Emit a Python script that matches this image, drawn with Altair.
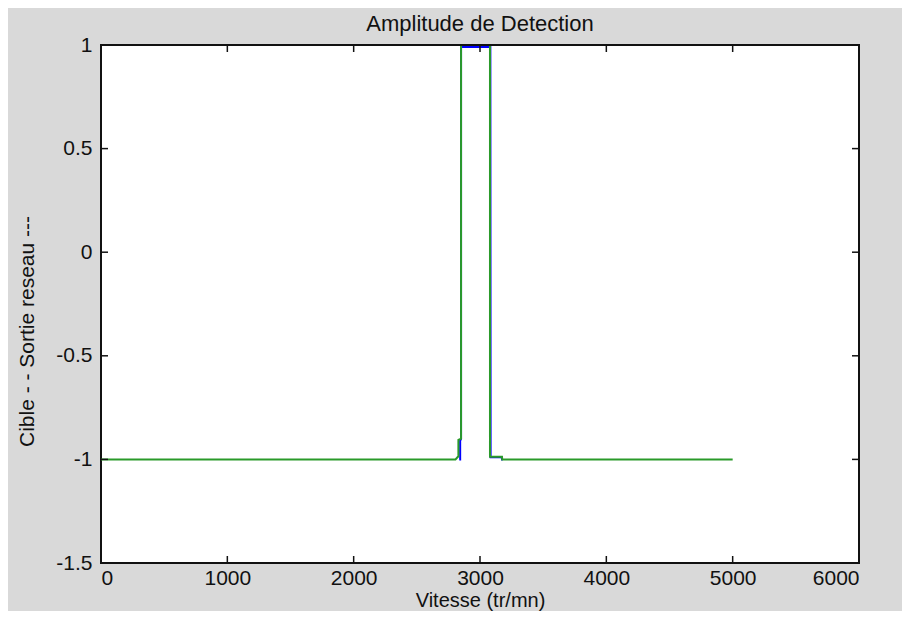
import altair as alt
import pandas as pd

# Network output (blue, "Sortie reseau") - pulse region where it differs from target
blue_x = [2836, 2843, 2843, 2850, 2850, 3082, 3084, 3172, 3174, 3180]
blue_y = [-1, -1, -0.91, -0.9, 0.99, 0.99, -0.99, -0.99, -1, -1]

# Target (green, "Cible")
green_x = [0, 2806, 2829, 2829, 2850, 2850, 3079, 3079, 3174, 3176, 5000]
green_y = [-1, -1, -0.985, -0.906, -0.9, 1, 1, -0.987, -0.987, -1, -1]

x_ticks = [0, 1000, 2000, 3000, 4000, 5000, 6000]
y_ticks = [-1.5, -1, -0.5, 0, 0.5, 1]
x_inner = [1000, 2000, 3000, 4000, 5000]
y_inner = [-1, -0.5, 0, 0.5]

W, H = 758, 518
FONT = "Liberation Sans"
FS = 21

rows = []
for i, (x, y) in enumerate(zip(blue_x, blue_y)):
    rows.append({"serie": "Sortie reseau", "x": x, "y": y, "o": i})
for i, (x, y) in enumerate(zip(green_x, green_y)):
    rows.append({"serie": "Cible", "x": x, "y": y, "o": i})
df = pd.DataFrame(rows)

xs = alt.Scale(domain=[0, 6000], nice=False, zero=False)
ys = alt.Scale(domain=[-1.5, 1], nice=False, zero=False)

xaxis = alt.Axis(values=x_ticks, ticks=False, domain=False, grid=False,
                 labelFontSize=FS, labelFont=FONT, labelColor="#111",
                 labelPadding=4, labelExpr="toString(datum.value)",
                 title="Vitesse (tr/mn)", titleFont=FONT, titleFontSize=20,
                 titleFontWeight="normal", titleColor="#111",
                 titleX=W / 2, titleY=37, titleBaseline="middle", titleAlign="center")
yaxis = alt.Axis(values=y_ticks, ticks=False, domain=False, grid=False,
                 labelFontSize=FS, labelFont=FONT, labelColor="#111",
                 labelPadding=9, labelExpr="toString(datum.value)",
                 title="Cible - -   Sortie reseau ---", titleFont=FONT, titleFontSize=FS,
                 titleFontWeight="normal", titleColor="#111",
                 titleX=-74, titleY=286, titleAngle=270,
                 titleBaseline="middle", titleAlign="center")

base = alt.Chart(df)
blue = base.transform_filter(alt.datum.serie == "Sortie reseau").mark_line(
    color="#0000ff", strokeWidth=2).encode(
    x=alt.X("x:Q", scale=xs, axis=xaxis),
    y=alt.Y("y:Q", scale=ys, axis=yaxis),
    order="o:Q")
green = base.transform_filter(alt.datum.serie == "Cible").mark_line(
    color="#2a9a2a", strokeWidth=2).encode(
    x=alt.X("x:Q", scale=xs),
    y=alt.Y("y:Q", scale=ys),
    order="o:Q")

xt = pd.DataFrame({"t": x_inner})
yt = pd.DataFrame({"t": y_inner})
tick_style = dict(color="#111", strokeWidth=1.5)
bottom_ticks = alt.Chart(xt).mark_rule(**tick_style).encode(
    x=alt.X("t:Q", scale=xs), y=alt.value(H), y2=alt.value(H - 7))
top_ticks = alt.Chart(xt).mark_rule(**tick_style).encode(
    x=alt.X("t:Q", scale=xs), y=alt.value(0), y2=alt.value(7))
left_ticks = alt.Chart(yt).mark_rule(**tick_style).encode(
    y=alt.Y("t:Q", scale=ys), x=alt.value(0), x2=alt.value(7))
right_ticks = alt.Chart(yt).mark_rule(**tick_style).encode(
    y=alt.Y("t:Q", scale=ys), x=alt.value(W), x2=alt.value(W - 7))

# frame drawn above the data lines (axis box)
frame_style = dict(color="#111", strokeWidth=2)
frame_top = alt.Chart(xt).mark_rule(**frame_style).encode(
    x=alt.value(0), x2=alt.value(W), y=alt.value(0))

chart = alt.layer(blue, green, bottom_ticks, top_ticks, left_ticks, right_ticks,
                  frame_top).properties(
    width=W, height=H,
    title=alt.Title("Amplitude de Detection", font=FONT, fontSize=FS + 1,
                    fontWeight="normal", color="#111", offset=-2),
    autosize=alt.AutoSizeParams(type="none"),
    padding={"left": 93, "top": 37, "right": 43, "bottom": 48},
).configure(background="#d9d9d9").configure_view(
    fill="white", stroke="#111", strokeWidth=2)

chart.save("out.html", embed_options={"renderer": "svg", "actions": False})
